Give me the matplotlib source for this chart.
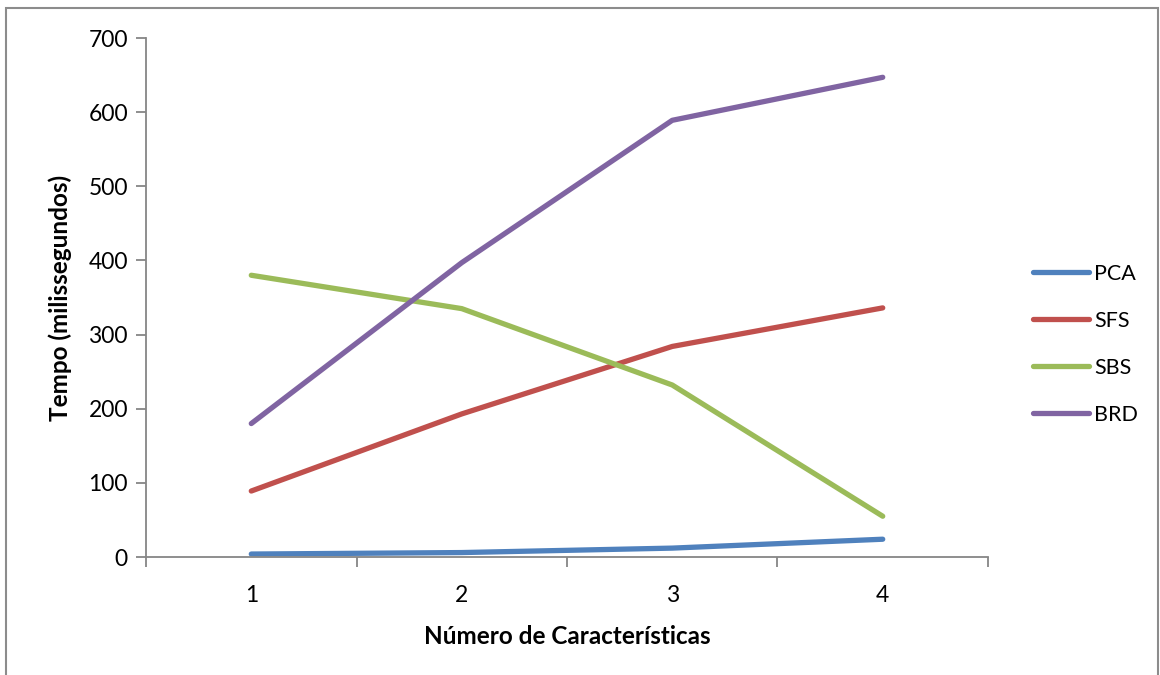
import matplotlib.pyplot as plt
from matplotlib.patches import Rectangle

# Data
categories = [1, 2, 3, 4]
series_names = ['PCA', 'SFS', 'SBS', 'BRD']
pca = [4, 6, 12, 24]
sfs = [89, 193, 284, 336]
sbs = [380, 335, 232, 55]
brd = [180, 397, 589, 647]
colors = ['#4F81BD', '#C0504D', '#9BBB59', '#8064A2']

plt.rcParams['font.family'] = ['Lato', 'DejaVu Sans']

fig = plt.figure(figsize=(11.6, 6.75), dpi=100)
ax = fig.add_axes([0.1259, 0.1748, 0.7258, 0.7689])

# outer chart border
fig.patches.append(Rectangle((6 / 1160, -0.01), 1152 / 1160, 1 - 8 / 675 + 0.01,
                             transform=fig.transFigure, fill=False,
                             edgecolor='#8c8c8c', linewidth=1.5))

for name, vals, c in zip(series_names, [pca, sfs, sbs, brd], colors):
    ax.plot(categories, vals, color=c, linewidth=3.8, solid_capstyle='round',
            solid_joinstyle='round', label=name)

ax.set_xlim(0.5, 4.5)
ax.set_ylim(0, 700)
ax.set_yticks(range(0, 701, 100))
ax.set_xticks(categories)
ax.set_xticks([0.5, 1.5, 2.5, 3.5, 4.5], minor=True)
ax.tick_params(axis='x', which='major', length=0, pad=20, labelsize=16.5)
ax.tick_params(axis='x', which='minor', length=7, width=1.3, color='#868686', direction='out')
ax.tick_params(axis='y', length=7, width=1.3, color='#868686', pad=6, labelsize=16.5)

for side in ['top', 'right']:
    ax.spines[side].set_visible(False)
for side in ['left', 'bottom']:
    ax.spines[side].set_color('#868686')
    ax.spines[side].set_linewidth(1.3)

ax.set_xlabel('Número de Características', fontsize=17.5, fontweight='bold', labelpad=14)
ax.set_ylabel('Tempo (milissegundos)', fontsize=17.5, fontweight='bold', labelpad=12)

ax.legend(loc='center left', bbox_to_anchor=(1.03, 0.41), frameon=False,
          fontsize=15.5, handlelength=2.6, handletextpad=0.25, labelspacing=1.25)

fig.savefig('out.png', dpi=100)
